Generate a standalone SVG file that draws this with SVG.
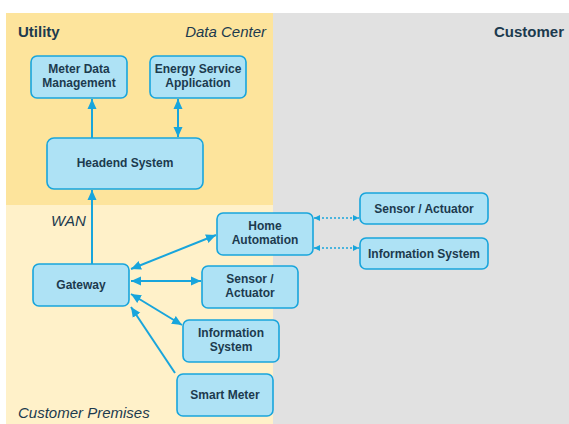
<svg xmlns="http://www.w3.org/2000/svg" width="569" height="424" viewBox="0 0 569 424">
<style>
.node rect{fill:#AEE2F5;stroke:#18A5DC;stroke-width:1.6}
.node text{font-family:"Liberation Sans",Arial,sans-serif;font-weight:bold;font-size:12px;fill:#1C3A4E;text-anchor:middle}
.lbl{font-family:"Liberation Sans",Arial,sans-serif;font-size:15px;fill:#1C3A4E}
.b{font-weight:bold}
.i{font-style:italic}
.conn line{stroke:#18A5DC;stroke-width:2;fill:none}
.conn line.dot{stroke-width:1.6;stroke-dasharray:2 2}
</style>
<defs>
<marker id="ah" markerUnits="userSpaceOnUse" markerWidth="10" markerHeight="10" viewBox="0 0 10 10" refX="10" refY="5" orient="auto-start-reverse">
<path d="M0,0.5 L10,5 L0,9.5 Z" fill="#18A5DC"/>
</marker>
<marker id="as" markerUnits="userSpaceOnUse" markerWidth="6" markerHeight="6" viewBox="0 0 10 10" refX="10" refY="5" orient="auto-start-reverse">
<path d="M0,0 L10,5 L0,10 Z" fill="#18A5DC"/>
</marker>
</defs>
<rect x="0" y="0" width="569" height="424" fill="#FFFFFF"/>
<rect x="6" y="13" width="267" height="192" fill="#FDE49C"/>
<rect x="6" y="205" width="267" height="219" fill="#FFF1C9"/>
<rect x="273" y="13" width="296" height="411" fill="#E1E1E1"/>
<text class="lbl b" x="18" y="37">Utility</text>
<text class="lbl i" x="266" y="37" text-anchor="end">Data Center</text>
<text class="lbl b" x="564" y="37" text-anchor="end">Customer</text>
<text class="lbl i" x="51" y="226">WAN</text>
<text class="lbl i" x="18" y="418">Customer Premises</text>
<g class="conn">
<line x1="92" y1="138" x2="92" y2="99" marker-end="url(#ah)"/>
<line x1="178" y1="99" x2="178" y2="137" marker-start="url(#ah)" marker-end="url(#ah)"/>
<line x1="92" y1="264" x2="92" y2="190" marker-end="url(#ah)"/>
<line x1="131" y1="269" x2="216" y2="235" marker-start="url(#ah)" marker-end="url(#ah)"/>
<line x1="131" y1="281" x2="201" y2="281" marker-start="url(#ah)" marker-end="url(#ah)"/>
<line x1="131" y1="294" x2="182" y2="325" marker-start="url(#ah)" marker-end="url(#ah)"/>
<line x1="175" y1="373" x2="131" y2="307" marker-end="url(#ah)"/>
<line class="dot" x1="314" y1="218" x2="359" y2="218" marker-start="url(#as)" marker-end="url(#as)"/>
<line class="dot" x1="314" y1="248" x2="359" y2="248" marker-start="url(#as)" marker-end="url(#as)"/>
</g>
<g id="mdm" class="node"><rect x="31" y="56" width="96" height="42" rx="6"/><text x="79" y="73">Meter Data</text><text x="79" y="87">Management</text></g>
<g id="esa" class="node"><rect x="150" y="56" width="96" height="42" rx="6"/><text x="198" y="73">Energy Service</text><text x="198" y="87">Application</text></g>
<g id="headend" class="node"><rect x="47" y="138" width="156" height="51" rx="7"/><text x="125" y="167">Headend System</text></g>
<g id="gateway" class="node"><rect x="33" y="264" width="96" height="42" rx="6"/><text x="81" y="289">Gateway</text></g>
<g id="home" class="node"><rect x="217" y="213" width="96" height="42" rx="6"/><text x="265" y="230">Home</text><text x="265" y="244">Automation</text></g>
<g id="sensor1" class="node"><rect x="202" y="266" width="96" height="42" rx="6"/><text x="250" y="283">Sensor /</text><text x="250" y="297">Actuator</text></g>
<g id="info1" class="node"><rect x="183" y="320" width="96" height="42" rx="6"/><text x="231" y="337">Information</text><text x="231" y="351">System</text></g>
<g id="smart" class="node"><rect x="177" y="374" width="96" height="42" rx="6"/><text x="225" y="399">Smart Meter</text></g>
<g id="sensor2" class="node"><rect x="360" y="193" width="128" height="31" rx="6"/><text x="424" y="213">Sensor / Actuator</text></g>
<g id="info2" class="node"><rect x="360" y="238" width="128" height="31" rx="6"/><text x="424" y="258">Information System</text></g>
</svg>
